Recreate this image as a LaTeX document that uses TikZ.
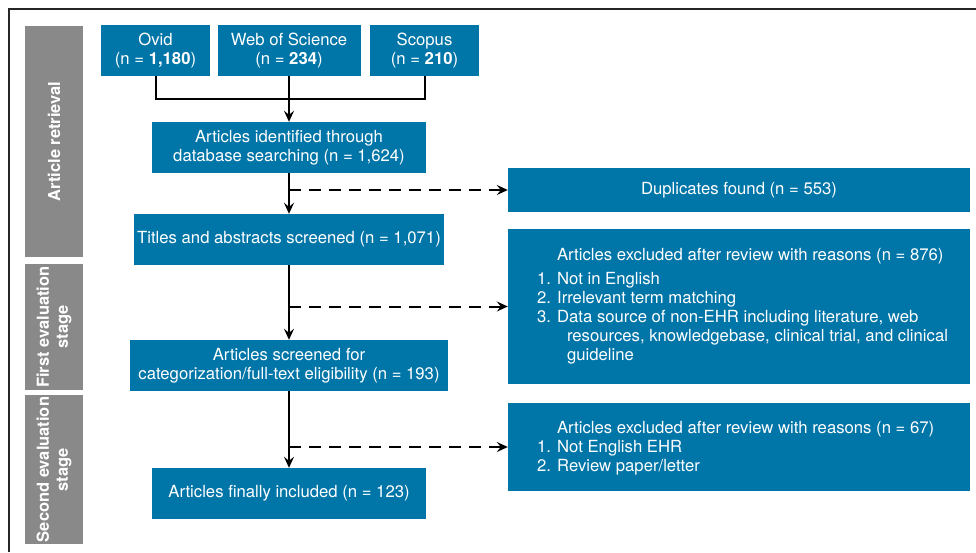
\documentclass[tikz,border=0pt]{standalone}
\usepackage{fontspec}
\setmainfont{TeX Gyre Heros}
\usetikzlibrary{arrows.meta}
\definecolor{boxblue}{HTML}{0075A8}
\definecolor{sidegray}{HTML}{898989}
\tikzset{
  bluebox/.style={fill=boxblue, text=white, inner sep=0pt, align=center},
  sidebox/.style={fill=sidegray, text=white, inner sep=0pt, align=center, rotate=90, font=\fontsize{16.5}{19}\selectfont\bfseries},
  listtext/.style={text=white, inner sep=0pt, align=left, anchor=west},
  conn/.style={line width=2pt, black},
  arr/.style={conn, -{Stealth[length=11pt, width=10pt, inset=4pt]}},
  dasharr/.style={arr, dash pattern=on 12pt off 8pt},
}
\begin{document}
\begin{tikzpicture}[x=1pt, y=-1pt, font=\fontsize{16.7}{19}\selectfont]
\useasboundingbox (0,0) rectangle (976,552);
% frame
\draw[line width=2pt, black!85] (9,552) -- (9,9) -- (976,9);

% side labels
\node[sidebox, minimum width=231pt, minimum height=58pt] (s1) at (54,141.5) {Article retrieval};
\node[sidebox, minimum width=126pt, minimum height=58pt] (s2) at (54,327) {First evaluation\\stage};
\node[sidebox, minimum width=149pt, minimum height=58pt] (s3) at (54,469.5) {Second evaluation\\stage};

% source boxes
\node[bluebox, minimum width=109pt, minimum height=51pt] (ovid) at (155.5,50.5) {Ovid\\(n = \textbf{1,180})};
\node[bluebox, minimum width=143pt, minimum height=51pt] (wos) at (289,50.5) {Web of Science\\(n = \textbf{234})};
\node[bluebox, minimum width=109pt, minimum height=51pt] (scopus) at (424.5,50.5) {Scopus\\(n = \textbf{210})};

% main column
\node[bluebox, minimum width=274pt, minimum height=51pt] (ident) at (289,147.5) {Articles identified through\\database searching (n = 1,624)};
\node[bluebox, minimum width=310pt, minimum height=51pt] (titles) at (289,239.5) {Titles and abstracts screened (n = 1,071)};
\node[bluebox, minimum width=318pt, minimum height=51pt] (screened) at (289,365.5) {Articles screened for\\categorization/full-text eligibility (n = 193)};
\node[bluebox, minimum width=274pt, minimum height=51pt] (final) at (289,493.5) {Articles finally included (n = 123)};

% right column
\node[bluebox, minimum width=462pt, minimum height=44pt] (dup) at (739,190) {Duplicates found (n = 553)};
\node[bluebox, minimum width=462pt, minimum height=155pt] (excl1) at (739,306.5) {};
\node[listtext] (excl1text) at ([xshift=29pt]excl1.west) {\hspace*{20pt}Articles excluded after review with reasons (n = 876)\\[5pt]
1. Not in English\\
2. Irrelevant term matching\\
3. Data source of non-EHR including literature, web\\
\hspace*{30pt}resources, knowledgebase, clinical trial, and clinical\\
\hspace*{30pt}guideline};
\node[bluebox, minimum width=462pt, minimum height=88pt] (excl2) at (739,447) {};
\node[listtext] (excl2text) at ([xshift=29pt, yshift=-1pt]excl2.west) {\hspace*{20pt}Articles excluded after review with reasons (n = 67)\\
1. Not English EHR\\
2. Review paper/letter};

% connectors
\coordinate (join) at (289,99);
\draw[conn] (ovid.south) |- (join) -| (scopus.south);
\draw[arr] (wos.south) -- (ident.north);
\draw[arr] (ident.south) -- (titles.north);
\draw[arr] (titles.south) -- (screened.north);
\draw[arr] (screened.south) -- (final.north);
\draw[dasharr] (dup.west -| ident.south) -- (dup.west);
\draw[dasharr] (excl1.west -| titles.south) -- (excl1.west);
\draw[dasharr] (excl2.west -| screened.south) -- (excl2.west);
\end{tikzpicture}
\end{document}
